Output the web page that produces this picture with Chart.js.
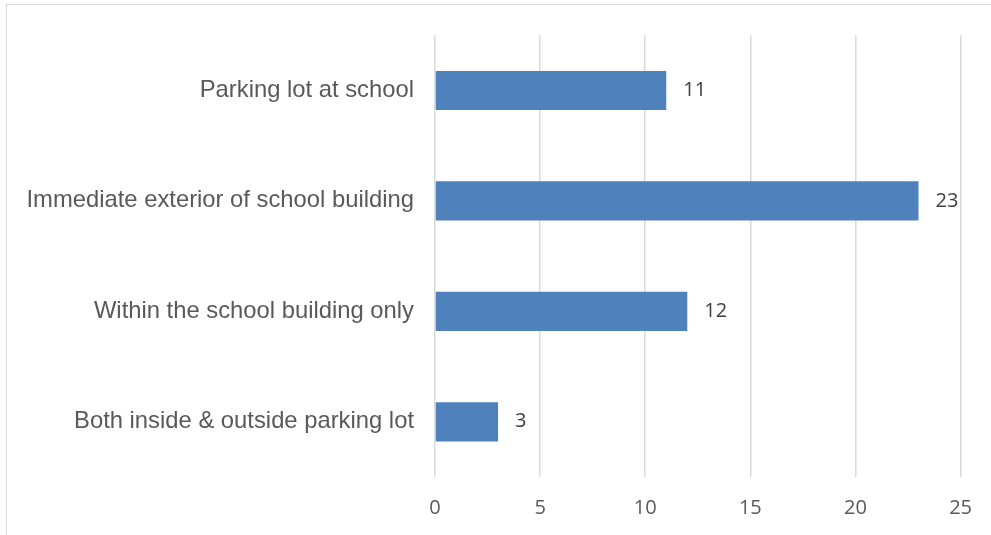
<!DOCTYPE html>
<html>
<head>
<meta charset="utf-8">
<script src="https://cdn.jsdelivr.net/npm/chart.js@4"></script>
<style>
  html, body { margin: 0; padding: 0; background: #fff; }
  #wrap { position: relative; width: 991px; height: 535px; overflow: hidden; }
  #frame { position: absolute; left: 6px; top: 4px; width: 1000px; height: 560px; border: 1.5px solid #d9d9d9; box-sizing: border-box; pointer-events: none; }
  canvas { position: absolute; left: 0; top: 0; }
</style>
</head>
<body>
<div id="wrap">
  <canvas id="c" width="991" height="535"></canvas>
  <div id="frame"></div>
</div>
<script>
const categories = [
  "Parking lot at school",
  "Immediate exterior of school building",
  "Within the school building only",
  "Both inside & outside parking lot"
];
const values = [11, 23, 12, 3];
const xMin = 0;
const xMax = 25;
const xStep = 5;

const valueLabels = {
  id: 'valueLabels',
  afterDatasetsDraw(chart) {
    const ctx = chart.ctx;
    const meta = chart.getDatasetMeta(0);
    ctx.save();
    ctx.font = '20px "Open Sans"';
    ctx.fillStyle = '#404040';
    ctx.textAlign = 'left';
    ctx.textBaseline = 'middle';
    meta.data.forEach((bar, i) => {
      ctx.fillText(String(chart.data.datasets[0].data[i]), bar.x + 17, bar.y);
    });
    ctx.restore();
  }
};

new Chart(document.getElementById('c'), {
  type: 'bar',
  data: {
    labels: categories,
    datasets: [{
      data: values,
      backgroundColor: '#4f81bd',
      borderWidth: 0,
      barPercentage: 0.355,
      categoryPercentage: 1.0
    }]
  },
  options: {
    indexAxis: 'y',
    responsive: false,
    animation: false,
    layout: { padding: { top: 34, right: 28, bottom: 19, left: 0 } },
    plugins: { legend: { display: false }, tooltip: { enabled: false } },
    scales: {
      x: {
        min: xMin, max: xMax,
        ticks: { stepSize: xStep, color: '#595959', font: { family: '"Open Sans"', size: 20 }, padding: 19 },
        grid: { color: '#d9d9d9', lineWidth: 1.5, drawTicks: false },
        border: { display: false },
        afterFit(scale) { scale.height = 39; }
      },
      y: {
        ticks: { color: '#595959', font: { family: '"Liberation Sans", Arial', size: 23.8 }, padding: 21 },
        grid: { display: false, drawTicks: false },
        border: { display: false },
        afterFit(scale) { scale.width = 435; }
      }
    }
  },
  plugins: [valueLabels]
});
</script>
</body>
</html>
